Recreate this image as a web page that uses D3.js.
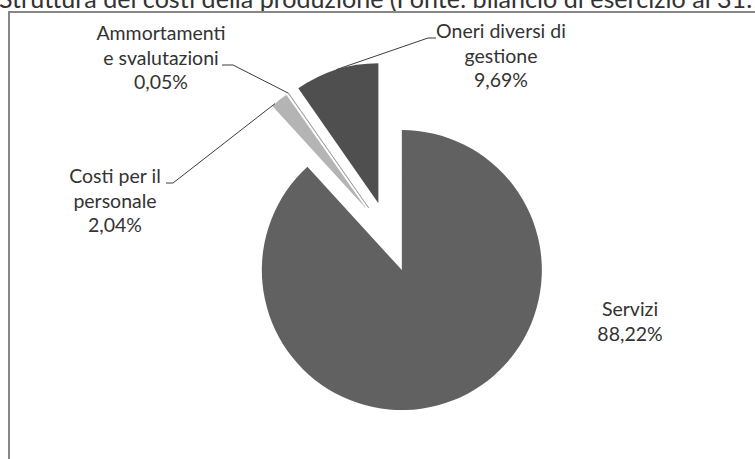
<!DOCTYPE html>
<html>
<head>
<meta charset="utf-8">
<script src="https://cdn.jsdelivr.net/npm/d3@7"></script>
<style>
  html, body { margin: 0; padding: 0; background: #fff; }
  svg { display: block; }
  text { font-family: Lato, "Open Sans", sans-serif; fill: #333; }
</style>
</head>
<body>
<div id="chart"></div>
<script>
// Composition of production costs (percentages)
const categories = ["Servizi", "Costi per il personale", "Ammortamenti e svalutazioni", "Oneri diversi di gestione"];
const values = [88.22, 2.04, 0.05, 9.69];
const labelLines = [
  ["Servizi", "88,22%"],
  ["Costi per il", "personale", "2,04%"],
  ["Ammortamenti", "e svalutazioni", "0,05%"],
  ["Oneri diversi di", "gestione", "9,69%"]
];
const fills = ["#616161", "#b4b4b4", "#f4f4f4", "#4f4f4f"];
const titleText = "Struttura dei costi della produzione (Fonte: bilancio di esercizio al 31.12)";

const W = 755, H = 459;
const cx = 389, cy = 237, R = 140, explode = 35.5;
const fontSize = 19.5, lineGap = 24.5;

// label layout: centre x, first baseline, leader bend and attach fraction along slice
const labelLayout = [
  { x: 630, y: 316 },
  { x: 115, y: 183, bend: [173, 183], tail: [166, 183], frac: 0.2 },
  { x: 161, y: 40, bend: [233, 65], tail: [222, 65], frac: 0.5 },
  { x: 501, y: 38, bend: [428, 38], tail: [436, 38], frac: 0.5 }
];

const svg = d3.select("#chart").append("svg").attr("width", W).attr("height", H);

// title (runs past the top and right edges)
svg.append("text")
  .attr("x", -1).attr("y", 8)
  .style("font-size", "25.1px")
  .text(titleText);

// chart area frame
svg.append("path")
  .attr("d", `M9,${H + 5} L9,12 L${W + 5},12`)
  .attr("fill", "none").attr("stroke", "#878787").attr("stroke-width", 2);

const pie = d3.pie().sort(null).value(d => d)(values);
const arc = d3.arc().innerRadius(0).outerRadius(R);

const g = svg.append("g").attr("transform", `translate(${cx},${cy})`);

const offset = (a, dist) => [Math.sin(a) * dist, -Math.cos(a) * dist];

g.selectAll("path.slice")
  .data(pie)
  .join("path")
  .attr("class", "slice")
  .attr("d", arc)
  .attr("transform", d => {
    const [dx, dy] = offset((d.startAngle + d.endAngle) / 2, explode);
    return `translate(${dx},${dy})`;
  })
  .attr("fill", (d, i) => fills[i])
  .attr("stroke", (d, i) => i === 2 ? "#8a8a8a" : "none")
  .attr("stroke-width", 0.6);

// leader lines
pie.forEach((d, i) => {
  const L = labelLayout[i];
  if (!L.bend) return;
  const mid = (d.startAngle + d.endAngle) / 2;
  const a = d.startAngle + (d.endAngle - d.startAngle) * L.frac;
  const [ex, ey] = offset(mid, explode);
  const [px, py] = offset(a, R);
  const anchor = [cx + ex + px, cy + ey + py];
  svg.append("polyline")
    .attr("points", [anchor, L.bend, L.tail].map(p => p.join(",")).join(" "))
    .attr("fill", "none").attr("stroke", "#3c3c3c").attr("stroke-width", 1);
});

// data labels
labelLines.forEach((lines, i) => {
  const L = labelLayout[i];
  const t = svg.append("text")
    .attr("text-anchor", "middle")
    .style("font-size", fontSize + "px");
  lines.forEach((ln, k) => {
    t.append("tspan").attr("x", L.x).attr("y", L.y + k * lineGap).text(ln);
  });
});
</script>
</body>
</html>
